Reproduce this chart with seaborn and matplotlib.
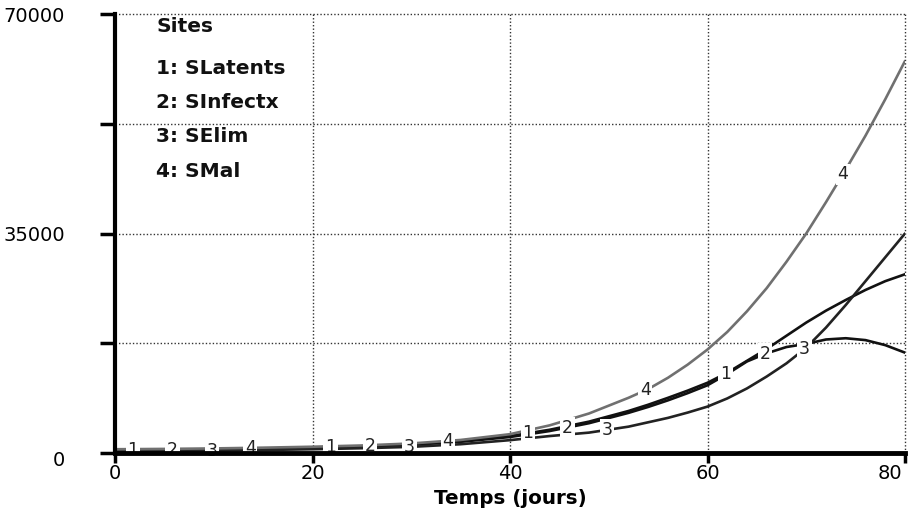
import numpy as np
import pandas as pd
import matplotlib
matplotlib.use("Agg")
import matplotlib.pyplot as plt
import matplotlib.transforms as mtransforms
import seaborn as sns

# ---- data ----
days = [0, 5, 10, 15, 20, 25, 30, 35, 40, 44, 48, 52, 54, 56, 58, 60, 62, 64, 66, 68,
        70, 72, 74, 76, 78, 80]
slatents = [450, 510, 600, 710, 870, 1070, 1380, 1880, 2700, 3700, 5000, 6700, 7700, 8800,
            9950, 11200, 12800, 14700, 16600, 18700, 20800, 22700, 24400, 26000, 27400, 28500]
sinfectx = [400, 460, 550, 660, 810, 1000, 1300, 1790, 2550, 3500, 4750, 6400, 7350, 8400,
            9550, 10800, 12600, 14600, 15900, 16900, 17400, 18100, 18300, 18000, 17200, 16000]
selim = [300, 340, 400, 480, 600, 760, 980, 1400, 2050, 2700, 3250, 4200, 4900, 5600,
         6450, 7400, 8700, 10300, 12200, 14300, 16800, 20000, 23600, 27400, 31200, 35000]
smal = [600, 650, 730, 850, 1000, 1200, 1520, 2080, 3000, 4400, 6300, 8800, 10200, 12000,
        14100, 16500, 19300, 22600, 26300, 30500, 35000, 40000, 45200, 50600, 56400, 62500]

series_names = ["SLatents", "SInfectx", "SElim", "SMal"]
series_ids = ["1", "2", "3", "4"]
label_offsets = [1.8, 5.8, 9.8, 13.7]   # day of first number marker on each curve
xticks = [0, 20, 40, 60, 80]
yticks = [0, 17500, 35000, 52500, 70000]
ytick_labels = ["0", "", "35000", "", "70000"]
legend_title = "Sites"
xlabel = "Temps (jours)"

values = [slatents, sinfectx, selim, smal]
df = pd.DataFrame({
    "day": days * 4,
    "value": slatents + sinfectx + selim + smal,
    "serie": sum([[n] * len(days) for n in series_names], []),
})

sns.set_theme(style="white")
plt.rcParams["font.family"] = ["DejaVu Sans"]

colors = {"SLatents": "#111111", "SInfectx": "#111111", "SElim": "#222222", "SMal": "#707070"}

fig = plt.figure(figsize=(9.11, 5.13), dpi=100)
ax = fig.add_axes([115 / 911, 1 - 453 / 513, (905 - 115) / 911, (453 - 14) / 513])

sns.lineplot(data=df, x="day", y="value", hue="serie", palette=colors,
             linewidth=1.9, legend=False, ax=ax, zorder=3)

# number markers on curves
for vals, sid, off in zip(values, series_ids, label_offsets):
    for k in range(4):
        t = off + 20 * k
        v = np.interp(t, days, vals)
        ax.text(t, v, sid, ha="center", va="center", fontsize=12.5, color="#222222",
                zorder=5, bbox=dict(boxstyle="square,pad=0.1", fc="white", ec="none"))

ax.set_xlim(0, 80)
ax.set_ylim(0, 70000)
ax.set_xticks(xticks)
ax.set_xticklabels([str(x) for x in xticks])
ax.set_yticks(yticks)
ax.set_yticklabels(ytick_labels)

ax.grid(True, linestyle=(0, (1, 1.5)), color="#333333", linewidth=1.0)
ax.set_axisbelow(True)
for g in ax.get_xgridlines() + ax.get_ygridlines():
    g.set_clip_on(False)

for s in ["top", "right"]:
    ax.spines[s].set_visible(False)
for s, w in [("left", 3), ("bottom", 3.5)]:
    ax.spines[s].set_linewidth(w)
    ax.spines[s].set_color("black")
    ax.spines[s].set_zorder(6)

ax.tick_params(axis="x", direction="out", length=7, width=2.5, color="black",
               labelsize=14, labelcolor="black", pad=1, bottom=True)
ax.tick_params(axis="y", direction="out", length=11, width=2.5, color="black",
               labelsize=14, labelcolor="black", pad=25, left=True)

# small label offsets as in the reference
last = ax.get_xticklabels()[-1]
last.set_transform(last.get_transform() + mtransforms.ScaledTranslation(-15 / 100, 0, fig.dpi_scale_trans))
zero_lab = ax.get_yticklabels()[0]
zero_lab.set_transform(zero_lab.get_transform() + mtransforms.ScaledTranslation(0, -5 / 100, fig.dpi_scale_trans))

ax.set_xlabel(xlabel, fontsize=14.3, fontweight="bold", labelpad=4, color="black")
ax.set_ylabel("")

# legend text block
ax.text(0.052, 0.993, legend_title, transform=ax.transAxes, fontsize=14.5,
        fontweight="bold", va="top", ha="left", color="#111111")
for i, (sid, name) in enumerate(zip(series_ids, series_names)):
    ax.text(0.052, 0.898 - i * 0.078, f"{sid}: {name}", transform=ax.transAxes,
            fontsize=14.5, fontweight="bold", va="top", ha="left", color="#111111")

fig.savefig("out.png", dpi=100)
